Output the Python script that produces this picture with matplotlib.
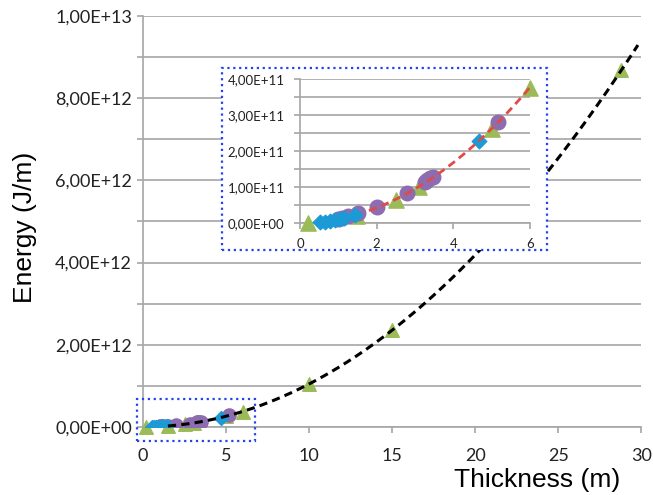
import numpy as np
import matplotlib
matplotlib.use("Agg")
import matplotlib.pyplot as plt
from matplotlib.patches import Rectangle
from matplotlib.ticker import FuncFormatter, MultipleLocator

# data (thickness in m, energy in J/m)
tri_x = [0.2, 1.5, 2.5, 3.1, 5.0, 6.0, 10.0, 15.0, 28.8]
tri_y = [0.0, 2.0e10, 6.4e10, 1.0e11, 2.6e11, 3.74e11, 1.05e12, 2.35e12, 8.68e12]
dia_x = [0.52, 0.65, 0.78, 0.91, 1.04, 1.15, 1.43, 4.68]
dia_y = [0.3e10, 0.4e10, 0.6e10, 0.9e10, 1.1e10, 1.4e10, 2.2e10, 2.29e11]
cir_x = [1.0, 1.1, 1.26, 1.52, 2.0, 2.8, 3.26, 3.32, 3.4, 3.48, 5.17]
cir_y = [1.2e10, 1.4e10, 1.9e10, 2.7e10, 4.4e10, 8.2e10, 1.15e11, 1.19e11, 1.24e11, 1.29e11, 2.81e11]

main_xticks = [0, 5, 10, 15, 20, 25, 30]
inset_xticks = [0, 2, 4, 6]

green = "#9BBB59"
blue = "#1C9AD6"
purple = "#8E6CB0"
grid_c = "#A6A6A6"
box_c = "#2244EE"

# quadratic trendline fitted on all points (like the spreadsheet trendline)
all_x = np.array(tri_x + dia_x + cir_x)
all_y = np.array(tri_y + dia_y + cir_y)
coef = np.polyfit(all_x, all_y, 2)


def sci_comma(v, pos):
    return f"{v:.2E}".replace(".", ",")


def style_axes(ax, size):
    for s in ["top", "right"]:
        ax.spines[s].set_visible(False)
    for s in ["left", "bottom"]:
        ax.spines[s].set_color(grid_c)
        ax.spines[s].set_linewidth(1.2)
    ax.grid(axis="y", which="both", color=grid_c, linewidth=1.2)
    ax.tick_params(which="both", direction="out", color=grid_c, width=1.2,
                   labelsize=size, labelcolor="#222222")
    ax.yaxis.set_major_formatter(FuncFormatter(sci_comma))
    ax.set_axisbelow(True)


plt.rcParams["font.family"] = ["Lato", "DejaVu Sans"]

fig = plt.figure(figsize=(6.53, 4.95), dpi=100)

# main chart
ax = fig.add_axes([0.219, 0.1374, 0.763, 0.8303])
style_axes(ax, 13)
ax.set_xlim(0, 30)
ax.set_ylim(0, 1e13)
ax.set_xticks(main_xticks)
ax.yaxis.set_major_locator(MultipleLocator(2e12))
ax.yaxis.set_minor_locator(MultipleLocator(1e12))
ax.tick_params(which="both", length=4)
ax.tick_params(axis="x", pad=11)
ax.tick_params(axis="y", pad=4)

ax.scatter(tri_x, tri_y, marker="^", s=95, color=green, zorder=3, clip_on=False)
ax.scatter(cir_x, cir_y, marker="o", s=90, color=purple, zorder=3)
ax.scatter(dia_x, dia_y, marker="D", s=50, color=blue, zorder=3)
tx = np.linspace(1.5, 29.8, 200)
ax.plot(tx, np.polyval(coef, tx), "--", color="black", linewidth=2.2,
        dashes=(2.7, 1.7), zorder=4, clip_on=False)

ax.add_patch(Rectangle((-0.36, -0.34e12), 7.11, 1.02e12, fill=False,
                       edgecolor=box_c, linestyle=":", linewidth=1.6,
                       clip_on=False, zorder=5))

fig.text(0.038, 0.541, "Energy (J/m)", rotation=90, ha="center", va="center",
         fontsize=19, family=["Liberation Sans", "DejaVu Sans"])
fig.text(0.823, 0.030, "Thickness (m)", ha="center", va="center",
         fontsize=19, family=["Liberation Sans", "DejaVu Sans"])

# inset frame
fig.patches.append(Rectangle((0.340, 0.495), 0.4977, 0.3676,
                             transform=fig.transFigure, facecolor="white",
                             edgecolor=box_c, linestyle=":", linewidth=1.6,
                             zorder=10))

# inset chart
axi = fig.add_axes([0.4594, 0.5495, 0.3522, 0.2909])
axi.set_zorder(11)
axi.patch.set_alpha(0)
style_axes(axi, 9.5)
axi.set_xlim(0, 6)
axi.set_ylim(0, 4e11)
axi.set_xticks(inset_xticks)
axi.yaxis.set_major_locator(MultipleLocator(1e11))
axi.yaxis.set_minor_locator(MultipleLocator(0.5e11))
axi.tick_params(which="both", length=4)
axi.tick_params(axis="x", pad=7)
axi.tick_params(axis="y", pad=7)

axi.scatter(tri_x, tri_y, marker="^", s=120, color=green, zorder=3, clip_on=False)
axi.scatter(cir_x, cir_y, marker="o", s=110, color=purple, zorder=3, clip_on=False)
axi.scatter(dia_x, dia_y, marker="D", s=55, color=blue, zorder=3, clip_on=False)
ti = np.linspace(1.8, 6.0, 100)
axi.plot(ti, np.polyval(coef, ti), "--", color="#E04B45", linewidth=2,
         dashes=(2.9, 1.8), zorder=4)

fig.savefig("out.png", dpi=100)
